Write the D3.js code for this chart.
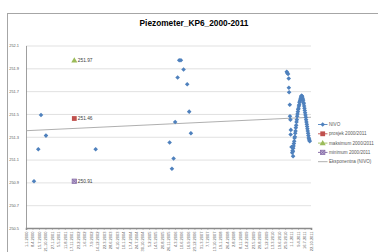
<!DOCTYPE html>
<html><head><meta charset="utf-8">
<script src="https://cdn.jsdelivr.net/npm/d3@7"></script>
<style>html,body{margin:0;padding:0;background:#fff;}svg{display:block;font-family:"Liberation Sans",Arial,sans-serif;}</style>
</head><body>
<svg id="c" width="378" height="252"></svg>
<script>
const title = "Piezometer_KP6_2000-2011";
const yTicks = [250.5, 250.7, 250.9, 251.1, 251.3, 251.5, 251.7, 251.9, 252.1];
const xTickDates = ["2000-01-01","2000-04-08","2000-07-15","2000-10-21","2001-01-27","2001-05-05","2001-08-11","2001-11-17","2002-02-23","2002-06-01","2002-09-07","2002-12-14","2003-03-22","2003-06-28","2003-10-04","2004-01-10","2004-04-17","2004-07-24","2004-10-30","2005-02-05","2005-05-14","2005-08-20","2005-11-26","2006-03-04","2006-06-10","2006-09-16","2006-12-23","2007-03-31","2007-07-07","2007-10-13","2008-01-19","2008-04-26","2008-08-02","2008-11-08","2009-02-14","2009-05-23","2009-08-29","2009-12-05","2010-03-13","2010-06-19","2010-09-25","2011-01-01","2011-04-09","2011-07-16","2011-10-22"];
const xTickLabels = ["1.1.2000","8.4.2000","15.7.2000","21.10.2000","27.1.2001","5.5.2001","11.8.2001","17.11.2001","23.2.2002","1.6.2002","7.9.2002","14.12.2002","22.3.2003","28.6.2003","4.10.2003","10.1.2004","17.4.2004","24.7.2004","30.10.2004","5.2.2005","14.5.2005","20.8.2005","26.11.2005","4.3.2006","10.6.2006","16.9.2006","23.12.2006","31.3.2007","7.7.2007","13.10.2007","19.1.2008","26.4.2008","2.8.2008","8.11.2008","14.2.2009","23.5.2009","29.8.2009","5.12.2009","13.3.2010","19.6.2010","25.9.2010","1.1.2011","9.4.2011","16.7.2011","22.10.2011"];

const nivoDates = ["2000-05-01","2000-07-05","2000-08-15","2000-10-29","2002-11-20",
"2005-12-13","2006-01-17","2006-02-11","2006-03-07","2006-04-13","2006-05-07","2006-06-02","2006-07-12","2006-09-05","2006-10-05","2006-10-31",
"2010-10-20","2010-10-27","2010-11-09","2010-11-19","2010-11-21","2010-11-25","2010-12-05","2010-12-08","2010-12-15","2010-12-18","2010-12-21","2010-12-31","2011-01-24",
"2011-01-11","2011-01-16","2011-01-21","2011-01-26","2011-01-31","2011-02-05","2011-02-10","2011-02-15","2011-02-20","2011-02-25","2011-03-02","2011-03-07","2011-03-12","2011-03-17","2011-03-22","2011-03-27","2011-04-01","2011-04-06","2011-04-11","2011-04-16","2011-04-21","2011-04-26","2011-05-01","2011-05-06","2011-05-11","2011-05-16","2011-05-21","2011-05-26","2011-05-31","2011-06-05","2011-06-10","2011-06-15","2011-06-20","2011-06-25","2011-06-30","2011-07-05","2011-07-10","2011-07-15","2011-07-20","2011-07-25","2011-07-30","2011-08-04","2011-08-09","2011-08-14","2011-08-19","2011-08-24","2011-08-29","2011-09-03","2011-09-08","2011-09-13","2011-09-18","2011-09-23","2011-09-28","2011-10-03"];
const nivoValues = [250.91,251.19,251.49,251.31,251.19,
251.25,251.02,251.11,251.43,251.82,251.97,251.97,251.89,251.76,251.52,251.33,
251.87,251.86,251.85,251.81,251.73,251.69,251.58,251.48,251.45,251.32,251.36,251.21,251.13,
251.16,251.18,251.17,251.20,251.22,251.24,251.26,251.29,251.30,251.33,251.35,251.38,251.40,251.43,251.45,251.48,251.50,251.52,251.54,251.55,251.57,251.58,251.60,251.61,251.62,251.63,251.64,251.65,251.66,251.66,251.65,251.64,251.63,251.62,251.60,251.59,251.57,251.55,251.53,251.51,251.49,251.47,251.45,251.43,251.41,251.39,251.37,251.35,251.33,251.31,251.29,251.28,251.27,251.26];

const statDate = "2002-01-01";
const prosjekValue = 251.46;
const maksimumValue = 251.97;
const minimumValue = 250.91;

const trendDates = ["2000-01-01","2011-10-22"];
const trendValues = [251.353, 251.471];

const legendLabels = ["NIVO","prosjek 2000/2011","maksimum 2000/2011","minimum 2000/2011","Eksponentna (NIVO)"];

const C = {blue:"#4F81BD", red:"#C0504D", green:"#9BBB59", purple:"#8064A2", trend:"#A6A6A6"};
const parse = d3.timeParse("%Y-%m-%d");
const svg = d3.select("#c");

svg.append("rect").attr("x",7.5).attr("y",13.5).attr("width",420).attr("height",300)
  .attr("fill","#fff").attr("stroke","#a6a6a6").attr("stroke-width",1);

svg.append("text").attr("x",194).attr("y",26).attr("text-anchor","middle")
  .attr("font-size",8.3).attr("font-weight","bold").attr("fill","#000").text(title);

const x = d3.scaleTime().domain([parse(xTickDates[0]), parse(xTickDates[xTickDates.length-1])]).range([26, 311]);
const y = d3.scaleLinear().domain([250.5, 252.1]).range([228, 45.5]);

// gridlines
const grid = svg.append("g").attr("transform","translate(26,0)")
  .call(d3.axisLeft(y).tickValues(yTicks).tickSize(-285).tickFormat(""));
grid.select(".domain").remove();
grid.selectAll("line").attr("stroke","#d9d9d9").attr("stroke-width",0.8);

// y axis
const ya = svg.append("g").attr("transform","translate(26,0)")
  .call(d3.axisLeft(y).tickValues(yTicks).tickSize(0).tickPadding(7).tickFormat(d3.format(".1f")));
ya.select(".domain").attr("stroke","#868686").attr("stroke-width",0.8);
ya.selectAll("text").attr("font-size",3.9).attr("fill","#595959").attr("font-family","Liberation Sans, Arial, sans-serif");

// x axis
const xa = svg.append("g").attr("transform","translate(0,228)")
  .call(d3.axisBottom(x).tickValues(xTickDates.map(parse)).tickSize(2)
    .tickFormat((d,i)=>xTickLabels[i]));
xa.select(".domain").attr("stroke","#8c8c8c").attr("stroke-width",1.6);
xa.selectAll("line").attr("stroke","#8c8c8c").attr("stroke-width",0.5);
xa.selectAll("text").attr("font-size",4).attr("fill","#595959")
  .attr("font-family","Liberation Sans, Arial, sans-serif")
  .attr("text-anchor","end").attr("transform","rotate(-90)")
  .attr("x",-3.5).attr("y",0).attr("dy","0.35em");

// trendline
const tline = d3.line().x((d,i)=>x(parse(trendDates[i]))).y(d=>y(d));
svg.append("path").attr("d",tline(trendValues)).attr("fill","none")
  .attr("stroke",C.trend).attr("stroke-width",0.9);

// NIVO points
const diamond = d3.symbol(d3.symbolSquare, 10.5);
svg.append("g").selectAll("path").data(nivoValues).join("path")
  .attr("d",diamond)
  .attr("transform",(d,i)=>`translate(${x(parse(nivoDates[i]))},${y(d)}) rotate(45)`)
  .attr("fill",C.blue);

// stat markers
function drawMarker(g, type, cx, cy){
  if(type==="square"){
    g.append("rect").attr("x",cx-2.4).attr("y",cy-2.4).attr("width",4.8).attr("height",4.8).attr("fill",C.red);
  } else if(type==="triangle"){
    g.append("path").attr("d",d3.symbol(d3.symbolTriangle,16)()).attr("transform",`translate(${cx},${cy+0.4})`).attr("fill",C.green);
  } else if(type==="x"){
    g.append("rect").attr("x",cx-2.2).attr("y",cy-2.2).attr("width",4.4).attr("height",4.4).attr("fill","#b9a9cf").attr("stroke",C.purple).attr("stroke-width",0.7);
    g.append("path").attr("d",`M${cx-2},${cy-2}L${cx+2},${cy+2}M${cx+2},${cy-2}L${cx-2},${cy+2}`).attr("stroke",C.purple).attr("stroke-width",0.7);
  } else if(type==="diamond"){
    g.append("path").attr("d",diamond).attr("transform",`translate(${cx},${cy}) rotate(45)`).attr("fill",C.blue);
  }
}
const stats = [{v:maksimumValue,t:"triangle"},{v:prosjekValue,t:"square"},{v:minimumValue,t:"x"}];
const sg = svg.append("g");
stats.forEach(s=>{
  const cx = x(parse(statDate)), cy = y(s.v);
  drawMarker(sg, s.t, cx, cy);
  sg.append("text").attr("x",cx+3.5).attr("y",cy).attr("dy","0.35em")
    .attr("font-size",4.8).attr("fill","#404040").text(s.v.toFixed(2));
});

// legend
const lg = svg.append("g");
const legColors = [C.blue, C.red, C.green, C.purple, C.trend];
const legTypes = ["diamond","square","triangle","x",null];
legendLabels.forEach((lab,i)=>{
  const ly = 124.5 + i*9.3;
  lg.append("line").attr("x1",318).attr("x2",327.5).attr("y1",ly).attr("y2",ly)
    .attr("stroke",legColors[i]).attr("stroke-width",0.9);
  if(legTypes[i]) drawMarker(lg, legTypes[i], 322.7, ly);
  lg.append("text").attr("x",329).attr("y",ly).attr("dy","0.35em")
    .attr("font-size",4.6).attr("fill","#595959").text(lab);
});
</script>
</body></html>
